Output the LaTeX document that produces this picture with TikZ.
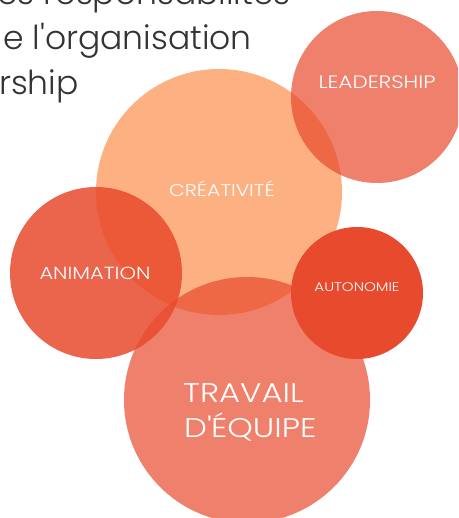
\documentclass[tikz,border=0pt]{standalone}
\usepackage{fontspec}
\setmainfont{Poppins}[UprightFont=* Light]
\newfontfamily\widefont{Poppins}[UprightFont=* Light, FakeStretch=1.2]
\definecolor{peach}{HTML}{FDB182}
\definecolor{corail}{HTML}{E84A2D}
\definecolor{inkgray}{HTML}{333333}
\begin{document}
\begin{tikzpicture}[x=1pt,y=-1pt,
  bubble/.style={circle, inner sep=0pt, draw=none},
  lbl/.style={text=white, inner sep=0pt, anchor=base},
  toptext/.style={text=inkgray, inner sep=0pt, anchor=base west, font=\fontsize{33}{40}\selectfont}]
\useasboundingbox (0,0) rectangle (458,518);
\clip (0,0) rectangle (458,518);
\node[toptext] (t1) at (-3,5) {es responsabilités};
\node[toptext] (t2) at (3,50) {e l\textquotesingle organisation};
\node[toptext] (t3) at (-1,95) {rship};
\node[bubble, fill=peach, minimum size=246pt] (crea) at (219,192) {};
\node[bubble, fill=corail, fill opacity=0.7, minimum size=172pt] (lead) at (377,97) {};
\node[bubble, fill=corail, fill opacity=0.7, minimum size=246pt] (trav) at (247,400) {};
\node[bubble, fill=corail, fill opacity=0.85, minimum size=172pt] (anim) at (96,273) {};
\node[bubble, fill=corail, minimum size=132pt] (auto) at (357,293) {};
\node[lbl, font=\widefont\fontsize{18}{22}\selectfont] (leadl) at (377,89) {LEADERSHIP};
\node[lbl, font=\widefont\fontsize{17}{22}\selectfont] (creal) at (222,197) {CRÉATIVITÉ};
\node[lbl, font=\widefont\fontsize{17.5}{22}\selectfont] (animl) at (95,279) {ANIMATION};
\node[lbl, font=\widefont\fontsize{12.5}{16}\selectfont] (autol) at (357,291) {AUTONOMIE};
\node[lbl, anchor=base west, font=\widefont\fontsize{27}{32}\selectfont] (travl1) at (183,402) {TRAVAIL};
\node[lbl, anchor=base west, font=\widefont\fontsize{27}{32}\selectfont] (travl2) at (184,437) {D\textquotesingle ÉQUIPE};
\end{tikzpicture}
\end{document}
